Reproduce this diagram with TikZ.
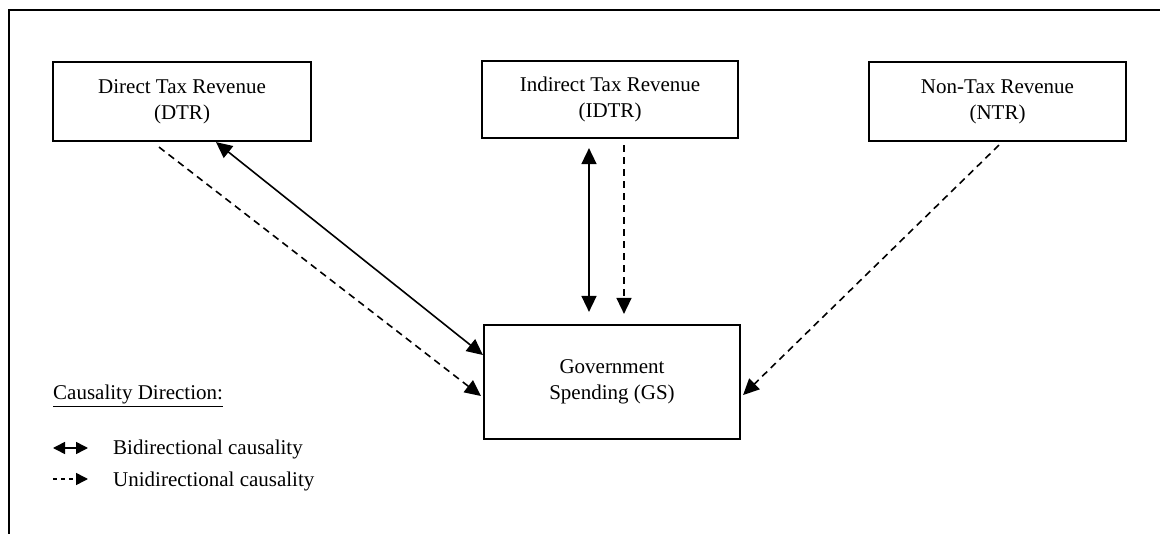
\documentclass[tikz,border=0pt]{standalone}
\usepackage{fontspec}
\setmainfont{Liberation Serif}
\usetikzlibrary{arrows.meta}
\begin{document}
\begin{tikzpicture}[x=1pt,y=-1pt,
  box/.style={draw,line width=2.2pt,inner sep=0pt,align=center,font=\fontsize{21}{26}\selectfont},
  lbl/.style={inner sep=0pt,font=\fontsize{21}{26}\selectfont},
  conn/.style={line width=1.6pt},
  dsh/.style={conn,dash pattern=on 7pt off 5pt},
  tip/.style={-{Triangle[length=16pt,width=15pt]}},
  both/.style={{Triangle[length=16pt,width=15pt]}-{Triangle[length=16pt,width=15pt]}},
  ltip/.style={-{Triangle[length=12pt,width=12pt]}},
  lboth/.style={{Triangle[length=12pt,width=12pt]}-{Triangle[length=12pt,width=12pt]}}]
\useasboundingbox (0,0) rectangle (1160,534);
\draw[line width=2.2pt] (1160,10) -- (9,10) -- (9,534);
\node[box,minimum width=258pt,minimum height=79pt] (dtr) at (182,101.5) {Direct Tax Revenue\\(DTR)};
\node[box,minimum width=256pt,minimum height=77pt] (idtr) at (610,99.5) {Indirect Tax Revenue\\(IDTR)};
\node[box,minimum width=257pt,minimum height=79pt] (ntr) at (997.5,101.5) {Non-Tax Revenue\\(NTR)};
\node[box,minimum width=256pt,minimum height=114pt] (gs) at (612,382) {Government\\Spending (GS)};
% DTR <-> GS
\draw[conn,both] ([xshift=34pt]dtr.south) -- ([yshift=27pt]gs.west);
% DTR -> GS
\draw[dsh,tip] ([xshift=-23pt,yshift=-5pt]dtr.south) -- ([xshift=-2pt,yshift=-14pt]gs.west);
% IDTR <-> GS
\draw[conn,both] ([xshift=-21pt,yshift=-9pt]idtr.south) -- ([xshift=-23pt,yshift=12pt]gs.north);
% IDTR -> GS
\draw[dsh,tip] ([xshift=14pt,yshift=-6pt]idtr.south) -- ([xshift=12pt,yshift=10pt]gs.north);
% NTR -> GS
\draw[dsh,tip] ([xshift=1.5pt,yshift=-3pt]ntr.south) -- ([xshift=2pt,yshift=-13pt]gs.east);
% legend
\node[lbl,anchor=base west] (ltitle) at (53,400) {\underline{Causality Direction:}};
\coordinate (lb1) at (53,448);
\coordinate (lb2) at (88,448);
\coordinate (lu1) at (53,479);
\coordinate (lu2) at (88,479);
\draw[conn,lboth] (lb1) -- (lb2);
\draw[line width=1.6pt,dash pattern=on 4pt off 4pt,ltip] (lu1) -- (lu2);
\node[lbl,anchor=base west] (lbtext) at (113,455) {Bidirectional causality};
\node[lbl,anchor=base west] (lutext) at (113,487) {Unidirectional causality};
\end{tikzpicture}
\end{document}
